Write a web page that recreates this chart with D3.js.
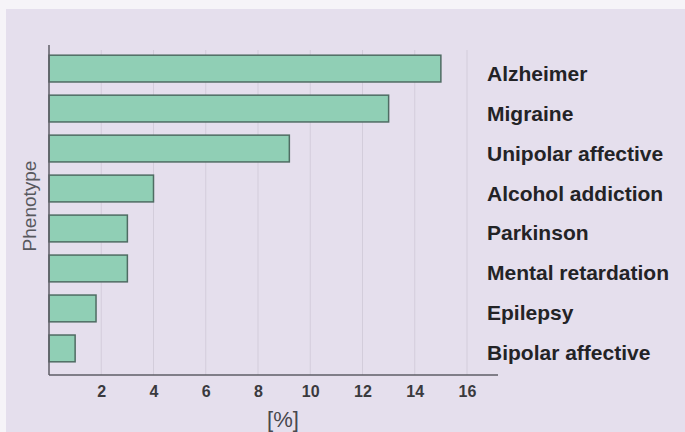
<!DOCTYPE html>
<html>
<head>
<meta charset="utf-8">
<script src="https://cdn.jsdelivr.net/npm/d3@7"></script>
<style>
  html, body { margin: 0; padding: 0; background: #f6f4f8; }
  svg { display: block; }
</style>
</head>
<body>
<div id="chart"></div>
<script>
// Data
const phenotypes = [
  "Alzheimer",
  "Migraine",
  "Unipolar affective",
  "Alcohol addiction",
  "Parkinson",
  "Mental retardation",
  "Epilepsy",
  "Bipolar affective"
];
const percents = [15, 13, 9.2, 4, 3, 3, 1.8, 1];
const xTicks = [2, 4, 6, 8, 10, 12, 14, 16];

const width = 685;
const height = 432;

const svg = d3
  .select("#chart")
  .append("svg")
  .attr("width", width)
  .attr("height", height);

// lavender panel
svg.append("rect")
  .attr("x", 6)
  .attr("y", 9)
  .attr("width", width - 6)
  .attr("height", height - 9)
  .attr("fill", "#e5dfed");

const x = d3.scaleLinear().domain([0, 16]).range([49, 467]);
const y = d3
  .scaleBand()
  .domain(phenotypes)
  .range([42, 375])
  .paddingInner(0.33)
  .paddingOuter(0.33);

// faint vertical grid lines
svg.append("g")
  .selectAll("line")
  .data(xTicks)
  .join("line")
  .attr("x1", (d) => x(d))
  .attr("x2", (d) => x(d))
  .attr("y1", 50)
  .attr("y2", 375)
  .attr("stroke", "#d3cddb")
  .attr("stroke-width", 1);

// bars
svg.append("g")
  .selectAll("rect")
  .data(percents)
  .join("rect")
  .attr("x", x(0))
  .attr("y", (d, i) => y(phenotypes[i]))
  .attr("width", (d) => x(d) - x(0))
  .attr("height", y.bandwidth())
  .attr("fill", "#90cfb5")
  .attr("stroke", "#4f6c63")
  .attr("stroke-width", 1.5);

// axes lines
svg.append("line")
  .attr("x1", 49).attr("x2", 49)
  .attr("y1", 45).attr("y2", 375)
  .attr("stroke", "#5e5e66")
  .attr("stroke-width", 1.5);

svg.append("line")
  .attr("x1", 49).attr("x2", 498)
  .attr("y1", 375).attr("y2", 375)
  .attr("stroke", "#5e5e66")
  .attr("stroke-width", 1.5);

// x tick labels
const xAxis = d3.axisBottom(x).tickValues(xTicks).tickSize(0).tickPadding(0);
const gx = svg.append("g").attr("transform", "translate(0,375)").call(xAxis);
gx.select(".domain").remove();
gx.selectAll("text")
  .attr("dy", null)
  .attr("y", 22)
  .style("font-family", "Liberation Sans, Arial, sans-serif")
  .style("font-size", "16px")
  .style("font-weight", "bold")
  .style("fill", "#3a3a3e");

// category labels on the right
svg.append("g")
  .selectAll("text")
  .data(phenotypes)
  .join("text")
  .attr("x", 487)
  .attr("y", (d) => y(d) + y.bandwidth() / 2 + 12)
  .text((d) => d)
  .style("font-family", "Liberation Sans, Arial, sans-serif")
  .style("font-size", "21px")
  .style("font-weight", "bold")
  .style("fill", "#232326");

// axis titles
svg.append("text")
  .attr("transform", "translate(36,206) rotate(-90)")
  .attr("text-anchor", "middle")
  .text("Phenotype")
  .style("font-family", "Liberation Sans, Arial, sans-serif")
  .style("font-size", "19px")
  .style("fill", "#58585e");

svg.append("text")
  .attr("x", 283)
  .attr("y", 427)
  .attr("text-anchor", "middle")
  .text("[%]")
  .style("font-family", "Liberation Sans, Arial, sans-serif")
  .style("font-size", "22px")
  .style("fill", "#48484e");
</script>
</body>
</html>
